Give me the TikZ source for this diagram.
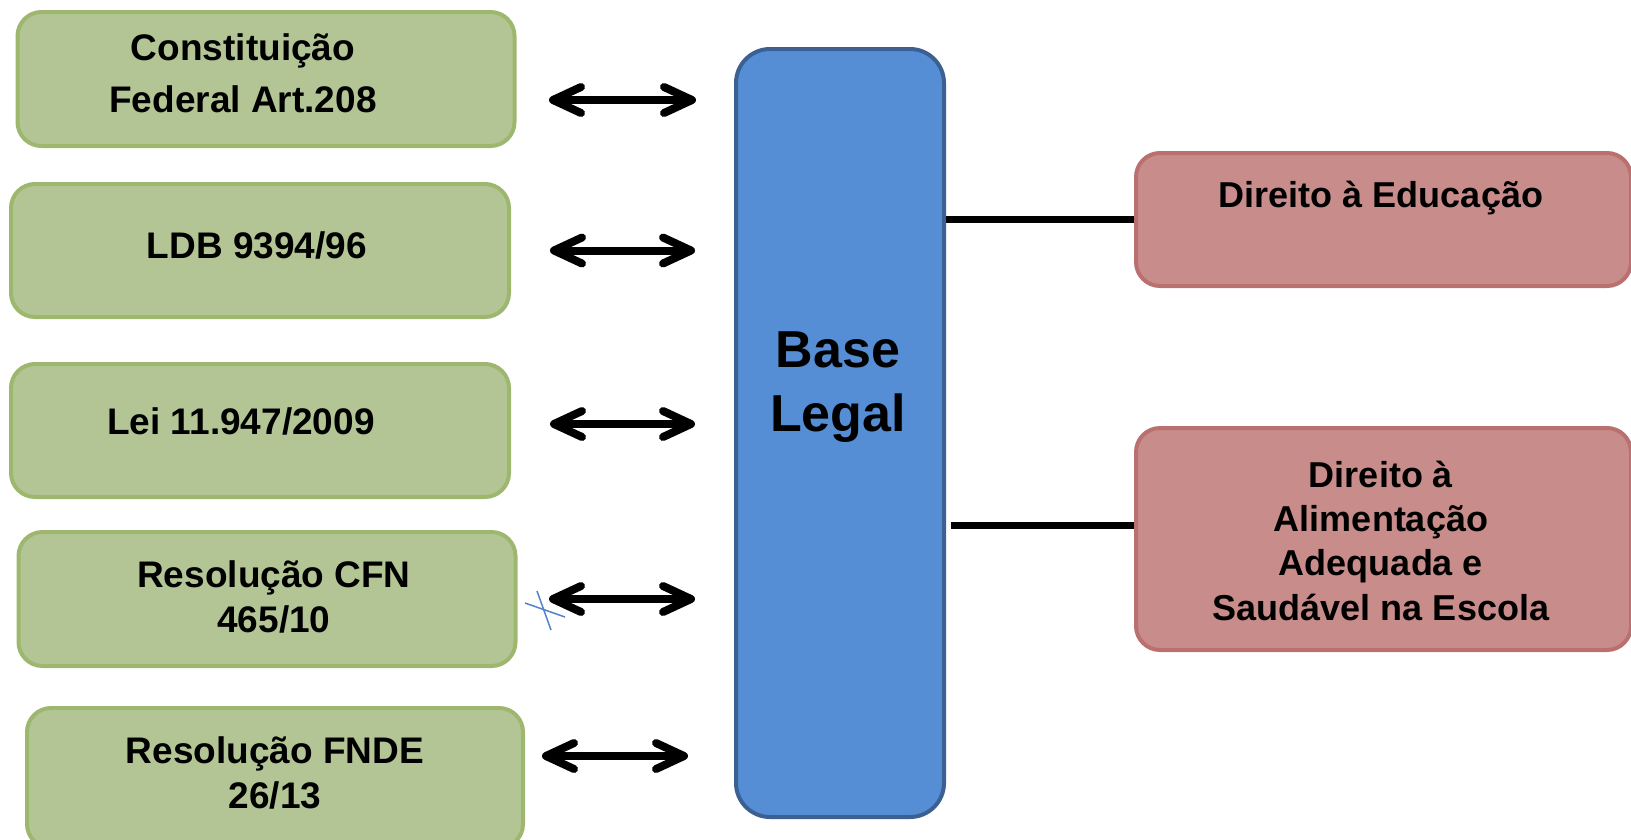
\documentclass[tikz,border=0pt]{standalone}
\usepackage{fontspec}
\setmainfont{Liberation Sans}
\usetikzlibrary{arrows.meta}
\definecolor{gfill}{RGB}{179,197,149}
\definecolor{gline}{RGB}{158,183,110}
\definecolor{bfill}{RGB}{85,142,213}
\definecolor{bline}{RGB}{60,96,145}
\definecolor{pfill}{RGB}{200,140,138}
\definecolor{pline}{RGB}{186,112,110}
\definecolor{xblue}{RGB}{80,130,205}
\begin{document}
\begin{tikzpicture}[x=1pt,y=-1pt,
  gbox/.style={draw=gline, fill=gfill, line width=4pt, rounded corners=24pt,
    anchor=north west, inner sep=0pt},
  bbox/.style={draw=bline, fill=bfill, line width=4pt, rounded corners=34pt,
    anchor=north west, inner sep=0pt},
  pbox/.style={draw=pline, fill=pfill, line width=4pt, rounded corners=24pt,
    anchor=north west, inner sep=0pt},
  txt/.style={anchor=base, align=center, inner sep=0pt,
    font={\fontsize{37}{45}\selectfont\bfseries}},
  bigtxt/.style={anchor=base, align=center, inner sep=0pt,
    font={\fontsize{52}{64}\selectfont\bfseries}},
  dbl/.style={line width=8pt,
    {Straight Barb[length=28pt, width=26pt, line width=8pt, round]}-{Straight Barb[length=28pt, width=26pt, line width=8pt, round]}},
  conn/.style={line width=7pt}
]
\useasboundingbox (0,0) rectangle (1631,839);

% left boxes
\node[gbox, minimum width=497pt, minimum height=134pt] (g1) at (15.5,10) {};
\node[gbox, minimum width=498pt, minimum height=133pt] (g2) at (9,182) {};
\node[gbox, minimum width=498pt, minimum height=133pt] (g3) at (9,362) {};
\node[gbox, minimum width=497pt, minimum height=134pt] (g4) at (16.5,530) {};
\node[gbox, minimum width=496pt, minimum height=140pt] (g5) at (25,706) {};

% (anchor base = baseline of the last line)
\node[txt, font={\fontsize{37}{52}\selectfont\bfseries}] (t1) at (243,112) {Constituição\\Federal Art.208};
\node[txt] (t2) at (257,258) {LDB 9394/96};
\node[txt] (t3) at (241,434) {Lei 11.947/2009};
\node[txt] (t4) at (274,632) {Resolução CFN\\465/10};
\node[txt] (t5) at (275,808) {Resolução FNDE\\26/13};

% central box
\node[bbox, minimum width=208pt, minimum height=768pt] (base) at (734,47) {};
\node[bigtxt] (tb) at (838,431) {Base\\Legal};

% right boxes
\node[pbox, minimum width=495pt, minimum height=133pt] (p1) at (1134,151) {};
\node[pbox, minimum width=495pt, minimum height=222pt] (p2) at (1134,426) {};
\node[txt, font={\fontsize{36}{44}\selectfont\bfseries}] (tp1) at (1381,207) {Direito à Educação};
\node[txt, font={\fontsize{36}{44.3}\selectfont\bfseries}] (tp2) at (1381,620) {Direito à\\Alimentação\\Adequada e\\Saudável na Escola};

% arrows
\coordinate (a1) at ([yshift=-21pt]g1.east);
\coordinate (a2) at (g2.east);
\coordinate (a3) at ([yshift=6.5pt]g3.east);
\coordinate (a4) at (g4.east);
\coordinate (a5) at ([yshift=22pt]g5.east);
\draw[dbl, shorten <=32.5pt, shorten >=38pt] (a1) -- (a1 -| base.west);
\draw[dbl, shorten <=39pt, shorten >=39pt] (a2) -- (a2 -| base.west);
\draw[dbl, shorten <=39pt, shorten >=39pt] (a3) -- (a3 -| base.west);
\draw[dbl, shorten <=31.5pt, shorten >=39pt] (a4) -- (a4 -| base.west);
\draw[dbl, shorten <=17pt, shorten >=46pt] (a5) -- (a5 -| base.west);

% connectors to the right
\draw[conn] (base.east |- p1.west) -- (p1.west);
\coordinate (l2) at ([yshift=14pt]p2.west);
\draw[conn, shorten <=5pt] (l2 -| base.east) -- (l2);

% small blue mark
\draw[xblue, line width=1.5pt] (525,603) -- (565,617);
\draw[xblue, line width=1.5pt] (537,591) -- (551,630);
\end{tikzpicture}
\end{document}
